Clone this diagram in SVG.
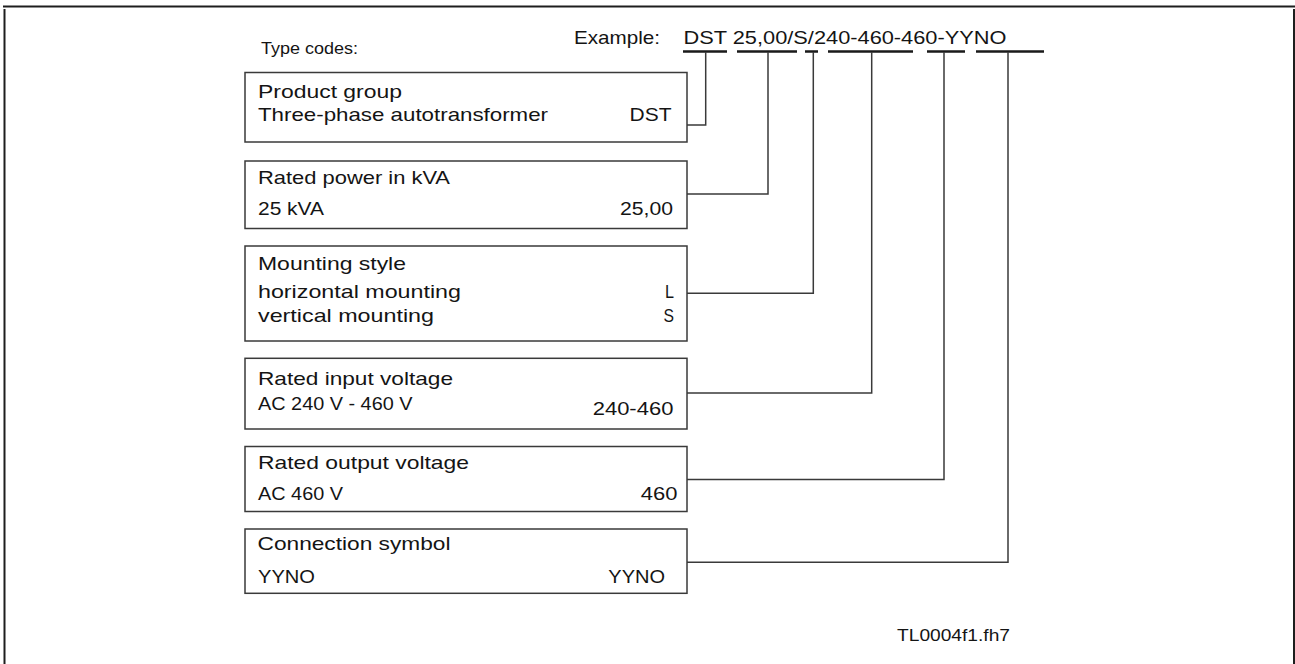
<svg xmlns="http://www.w3.org/2000/svg" width="1295" height="664" viewBox="0 0 1295 664">
<style>
.box{fill:#fff;stroke:#3a3a3a;stroke-width:1.5}
.con{fill:none;stroke:#3a3a3a;stroke-width:1.5}
.ul{fill:none;stroke:#1a1a1a;stroke-width:2.5}
.frame{fill:none;stroke:#1e1e1e;stroke-width:2}
text{font-family:"Liberation Sans",Arial,sans-serif;fill:#141414;font-size:18.5px}
.sm{font-size:16px}
.ex{font-size:19px}
</style>
<rect width="1295" height="664" fill="#fff"/>
<g id="frame">
<line class="frame" x1="3" y1="6.5" x2="1295" y2="6.5"/>
<line class="frame" x1="4.5" y1="9" x2="4.5" y2="664"/>
<line class="frame" x1="1294" y1="9" x2="1294" y2="664"/>
</g>
<g id="header">
<text class="sm" x="261" y="54" textLength="97" lengthAdjust="spacingAndGlyphs">Type codes:</text>
<text class="ex" x="574" y="43.5" textLength="86" lengthAdjust="spacingAndGlyphs">Example:</text>
<text class="ex" x="683.5" y="43.5" textLength="323" lengthAdjust="spacingAndGlyphs">DST 25,00/S/240-460-460-YYNO</text>
</g>
<g id="connectors">
<path class="ul" d="M683 51.5H727M737 51.5H797M805 51.5H818M828 51.5H913M927 51.5H965M976 51.5H1044"/>
<path class="con" d="M687 125H705.7V52"/>
<path class="con" d="M687 194H768V52"/>
<path class="con" d="M687 293.3H813.3V52"/>
<path class="con" d="M687 393H871.7V52"/>
<path class="con" d="M687 479.5H944V52"/>
<path class="con" d="M687 562.3H1008V52"/>
</g>
<g id="product-group">
<rect class="box" x="245" y="72.5" width="442" height="69.5"/>
<text x="258" y="98.3" textLength="144" lengthAdjust="spacingAndGlyphs">Product group</text>
<text x="258" y="120.7" textLength="290" lengthAdjust="spacingAndGlyphs">Three-phase autotransformer</text>
<text x="629.5" y="120.7" textLength="42" lengthAdjust="spacingAndGlyphs">DST</text>
</g>
<g id="rated-power">
<rect class="box" x="245" y="161" width="442" height="67.5"/>
<text x="258" y="184" textLength="192" lengthAdjust="spacingAndGlyphs">Rated power in kVA</text>
<text x="258" y="215" textLength="66" lengthAdjust="spacingAndGlyphs">25 kVA</text>
<text x="620" y="215" textLength="53" lengthAdjust="spacingAndGlyphs">25,00</text>
</g>
<g id="mounting-style">
<rect class="box" x="245" y="246" width="442" height="95"/>
<text x="258" y="270" textLength="148" lengthAdjust="spacingAndGlyphs">Mounting style</text>
<text x="258" y="298" textLength="203" lengthAdjust="spacingAndGlyphs">horizontal mounting</text>
<text x="665" y="298" textLength="9" lengthAdjust="spacingAndGlyphs">L</text>
<text x="258" y="321.7" textLength="176" lengthAdjust="spacingAndGlyphs">vertical mounting</text>
<text x="663.5" y="321.7" textLength="10.5" lengthAdjust="spacingAndGlyphs">S</text>
</g>
<g id="rated-input-voltage">
<rect class="box" x="245" y="358.3" width="442" height="70.7"/>
<text x="258" y="385" textLength="195" lengthAdjust="spacingAndGlyphs">Rated input voltage</text>
<text x="258" y="410" textLength="154.5" lengthAdjust="spacingAndGlyphs">AC 240 V - 460 V</text>
<text x="592.7" y="415" textLength="80.7" lengthAdjust="spacingAndGlyphs">240-460</text>
</g>
<g id="rated-output-voltage">
<rect class="box" x="245" y="446.5" width="442" height="65"/>
<text x="258" y="469.3" textLength="211" lengthAdjust="spacingAndGlyphs">Rated output voltage</text>
<text x="258" y="500" textLength="85" lengthAdjust="spacingAndGlyphs">AC 460 V</text>
<text x="640.7" y="500" textLength="36.7" lengthAdjust="spacingAndGlyphs">460</text>
</g>
<g id="connection-symbol">
<rect class="box" x="245" y="529" width="442" height="64.3"/>
<text x="257.5" y="550" textLength="193" lengthAdjust="spacingAndGlyphs">Connection symbol</text>
<text x="258" y="582.7" textLength="57" lengthAdjust="spacingAndGlyphs">YYNO</text>
<text x="608.3" y="582.7" textLength="56.7" lengthAdjust="spacingAndGlyphs">YYNO</text>
</g>
<g id="file-ref">
<text class="sm" x="897" y="641" textLength="113" lengthAdjust="spacingAndGlyphs">TL0004f1.fh7</text>
</g>
</svg>
